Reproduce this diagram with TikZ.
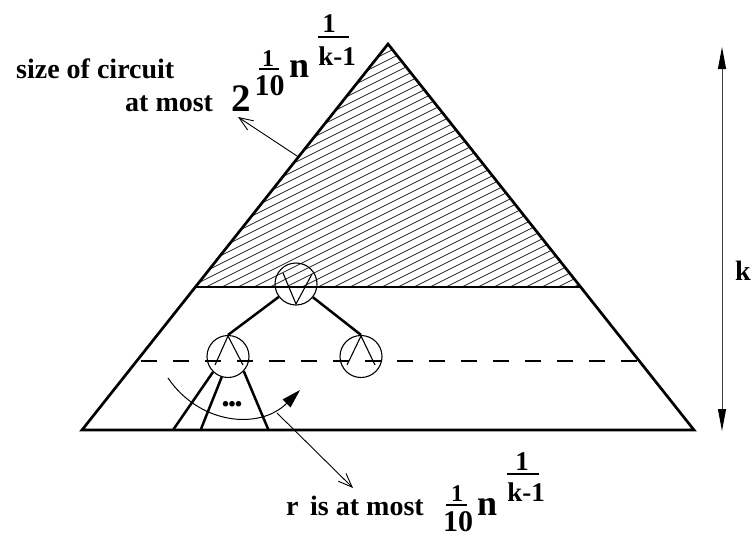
\documentclass[tikz,border=0pt]{standalone}
\usepackage{fontspec}
\setmainfont{Liberation Serif}
\usetikzlibrary{arrows.meta}
\begin{document}
\begin{tikzpicture}[x=1pt,y=-1pt,
  thickline/.style={line width=2.7pt,line join=miter},
  gate/.style={circle,draw,line width=1.1pt,minimum size=42pt,inner sep=0pt},
  gateglyph/.style={line width=1.1pt},
  wire/.style={line width=2.5pt},
  hatchline/.style={line width=0.8pt,black!85},
  pointer/.style={line width=0.9pt,-{Straight Barb[length=14pt,width=11pt,line width=0.9pt]}},
  dimarrow/.style={line width=1pt,black!75,{Triangle[length=22pt,width=8pt,black]}-{Triangle[length=22pt,width=8pt,black]}},
  arcarrow/.style={line width=1pt,-{Triangle[length=19pt,width=11pt]}},
  lbl/.style={inner sep=0pt,font=\bfseries\fontsize{28}{30}\selectfont},
  big/.style={inner sep=0pt,font=\bfseries\fontsize{36}{40}\selectfont},
  bigtwo/.style={inner sep=0pt,font=\bfseries\fontsize{39}{42}\selectfont},
  fracnum/.style={inner sep=0pt,font=\bfseries\fontsize{24}{26}\selectfont},
  fracden/.style={inner sep=0pt,font=\bfseries\fontsize{30}{32}\selectfont},
  expo/.style={inner sep=0pt,font=\bfseries\fontsize{27}{29}\selectfont},
  fracbar/.style={line width=2pt}
]
\fill[white] (0,0) rectangle (752,536);
\useasboundingbox (0,0) rectangle (752,536);

% triangle corners
\coordinate (apex) at (388,44);
\coordinate (bl) at (82,430);
\coordinate (br) at (694,430);
\coordinate (ml) at (195.9,287);
\coordinate (mr) at (580.1,287);

% hatching of the top part
\begin{scope}
  \clip (apex) -- (ml) -- (mr) -- cycle;
  \foreach \c in {238,246,...,580}
    \draw[hatchline] (190,{\c-95}) -- (590,{\c-295});
\end{scope}

\draw[thickline] (apex) -- (bl) -- (br) -- cycle;
\draw[thickline] (ml) -- (mr);

% dashed level
\coordinate (dl) at (141,361);
\coordinate (dr) at (638.6,361);
\draw[line width=2.4pt,dash pattern=on 16pt off 16pt] (dl) -- (dr);

% gates
\node[gate] (gtop) at (296,284) {};
\node[gate] (gll) at (228,356.5) {};
\node[gate] (glr) at (361,356.5) {};
\draw[gateglyph] (283,273) -- (296,304) -- (312,274);
\draw[gateglyph] (215,365) -- (228,336) -- (243,365);
\draw[gateglyph] (347,365) -- (361,336) -- (375,365);

\draw[wire] (gtop) -- (gll.north);
\draw[wire] (gtop) -- (glr.north);

\coordinate (w1) at (173,430);
\coordinate (w2) at (201,429);
\coordinate (w3) at (268.5,430);
\draw[wire] (gll.226) -- (w1);
\draw[wire] (gll.253) -- (w2);
\draw[wire] (gll.317) -- (w3);
\node[inner sep=0pt,font=\bfseries\fontsize{34}{36}\selectfont,anchor=base] (dots) at (232,406) {.\kern-2pt.\kern-2pt.};

% arc arrow
\coordinate (a1) at (168,378);
\coordinate (a2) at (300,390);
\draw[arcarrow] (a1) .. controls (200,425) and (260,430) .. (a2);

% pointers
\coordinate (p1) at (298.5,157);
\coordinate (p2) at (238,117);
\draw[pointer] (p1) -- (p2);
\coordinate (q1) at (277,413);
\coordinate (q2) at (353,488);
\draw[pointer] (q1) -- (q2);

% height arrow
\coordinate (va1) at (722,47);
\coordinate (va2) at (722,431);
\draw[dimarrow] (va1) -- (va2);
\node[lbl,anchor=base west] (klbl) at (735,280) {k};

% top label
\node[lbl,anchor=base west] (size) at (16,78) {size of circuit};
\node[lbl,anchor=base west] (atmost) at (125,111) {at most};
\node[bigtwo,anchor=base west] (two) at (231,111) {2};
\node[fracnum,anchor=base] (tn) at (268,66) {1};
\draw[fracbar] (259,69) -- (279,69);
\node[fracden,anchor=base] (td) at (269.5,95) {10};
\node[big,anchor=base west] (tnn) at (289,77) {n};
\node[expo,anchor=base] (te1) at (329,32) {1};
\draw[fracbar] (318,36.5) -- (349,36.5);
\node[expo,anchor=base] (tek) at (337,65) {k-1};

% bottom label
\node[lbl,anchor=base west] (rr) at (286,515) {r};
\node[lbl,anchor=base west] (isat) at (310,515) {is at most};
\node[fracnum,anchor=base] (bn) at (457,501) {1};
\draw[fracbar] (446,505) -- (467,505);
\node[fracden,anchor=base] (bd) at (458,531) {10};
\node[big,anchor=base west] (bnn) at (477,515) {n};
\node[expo,anchor=base] (be1) at (522,470) {1};
\draw[fracbar] (507,474) -- (539,474);
\node[expo,anchor=base] (bek) at (526,501) {k-1};
\end{tikzpicture}
\end{document}
